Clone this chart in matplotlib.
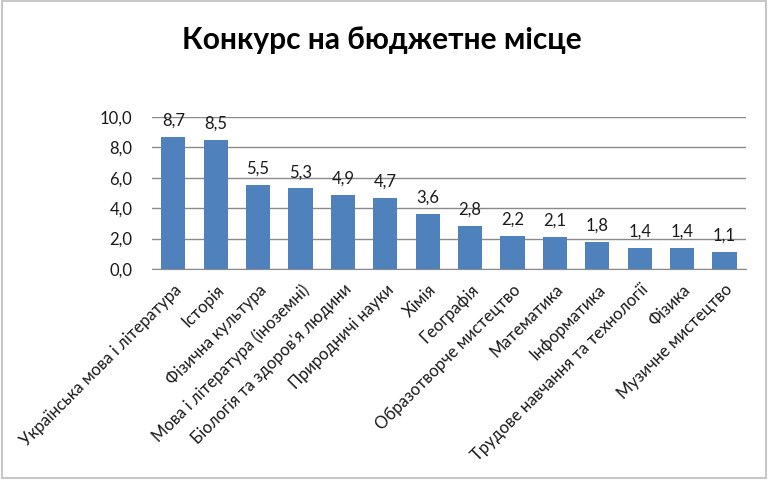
import matplotlib.pyplot as plt
from matplotlib.patches import Rectangle

# subject names and competition ratio (applicants per budget place)
subjects = ['Українська мова і література', 'Історія', 'Фізична культура',
            'Мова і література (іноземні)', "Біологія та здоров'я людини",
            'Природничі науки', 'Хімія', 'Географія', 'Образотворче мистецтво',
            'Математика', 'Інформатика', 'Трудове навчання та технології',
            'Фізика', 'Музичне мистецтво']
ratio = [8.7, 8.5, 5.5, 5.3, 4.9, 4.7, 3.6, 2.8, 2.2, 2.1, 1.8, 1.4, 1.4, 1.1]
yticks = [0, 2, 4, 6, 8, 10]

plt.rcParams['font.family'] = ['Lato', 'DejaVu Sans']

fig = plt.figure(figsize=(7.68, 4.82), dpi=100)
ax = fig.add_axes([0.198, 0.442, 0.773, 0.315])

bar_color = '#4F81BD'
pos = range(len(subjects))
bars = ax.bar(pos, ratio, width=0.57, color=bar_color, zorder=3)

for b, v in zip(bars, ratio):
    ax.annotate(('%.1f' % v).replace('.', ','),
                (b.get_x() + b.get_width() / 2, v),
                xytext=(0, 6), textcoords='offset points',
                ha='center', va='bottom', fontsize=12, color='#1a1a1a')

ax.set_xlim(-0.5, len(subjects) - 0.5)
ax.set_ylim(0, 10)
ax.set_yticks(yticks)
ax.set_yticklabels([('%.1f' % t).replace('.', ',') for t in yticks],
                   fontsize=12, color='#1a1a1a')
ax.yaxis.grid(True, color='#8a8a8a', linewidth=1, zorder=0)
ax.tick_params(axis='y', length=0, pad=14)
ax.tick_params(axis='x', length=0, pad=9)

ax.set_xticks(list(pos))
ax.set_xticklabels(subjects, rotation=45, ha='right', rotation_mode='anchor',
                   fontsize=12, color='#1a1a1a')

for s in ['top', 'right', 'left']:
    ax.spines[s].set_visible(False)
ax.spines['bottom'].set_color('#8a8a8a')

fig.text(0.497, 0.918, 'Конкурс на бюджетне місце', ha='center', va='center',
         fontsize=21.5, fontweight='bold', color='black')

# thin grey frame round the picture
fig.patches.append(Rectangle((0.002, 0.008), 0.996, 0.99, transform=fig.transFigure,
                             fill=False, edgecolor='#c8c8c8', linewidth=1.5))

fig.savefig('out.png', dpi=100)
